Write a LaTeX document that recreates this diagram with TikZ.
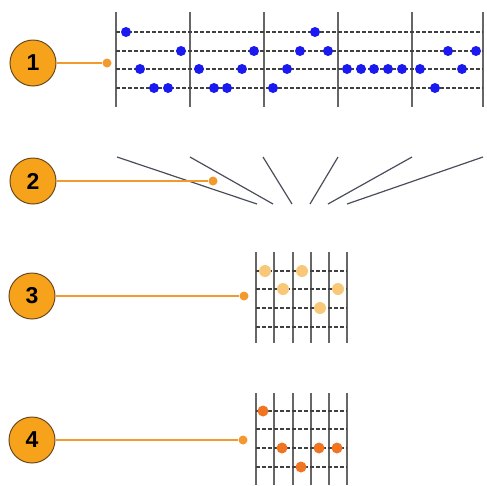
\documentclass[tikz,border=0pt]{standalone}
\usepackage{fontspec}
\setsansfont{Liberation Sans}
\usetikzlibrary{positioning}
\definecolor{calloutorange}{HTML}{F7A21B}
\definecolor{calloutrim}{HTML}{6B4A1E}
\definecolor{leaderorange}{HTML}{F29A2E}
\definecolor{noteblue}{HTML}{1A1AF0}
\definecolor{notepale}{HTML}{F8C878}
\definecolor{notedeep}{HTML}{F07422}
\definecolor{raygray}{HTML}{4A4E5C}

\begin{document}
\begin{tikzpicture}[
    x=1pt, y=-1pt,
    callout/.style={circle, draw=calloutrim, fill=calloutorange, line width=1pt, minimum size=46pt, inner sep=0pt, font=\sffamily\bfseries\fontsize{23}{23}\selectfont},
    leader/.style={draw=leaderorange, line width=1.6pt},
    tipdot/.style={circle, fill=leaderorange, inner sep=0pt, minimum size=9pt},
    bar/.style={draw=gray!80!black, line width=1.5pt},
    lane/.style={draw=black!75, line width=1.1pt, dash pattern=on 4pt off 2pt},
    ray/.style={draw=raygray, line width=1.2pt}
]
\useasboundingbox (0,0) rectangle (487,485);

% callouts and their leader tips
\node[callout] (c1) at (33,63) {1};
\node[callout] (c2) at (33,181) {2};
\node[callout] (c3) at (32,296) {3};
\node[callout] (c4) at (32,440) {4};

\node[tipdot] (t1) at (107,63) {};
\node[tipdot] (t2) at (213,181) {};
\node[tipdot] (t3) at (244,296) {};
\node[tipdot] (t4) at (243,440) {};

% panel 1: wide staff
\foreach \x in {116,190,264,338,412}
    \draw[bar] (\x,12) -- (\x,107);
\draw[bar, line width=2.6pt] (483,12) -- (483,107);
\foreach \y in {32,51,69,88}
    \draw[lane] (116,\y) -- (483,\y);
\foreach \x/\y in {126/32, 315/32,
    181/51, 254/51, 300/51, 328/51, 448/51, 476/51,
    140/69, 199/69, 242/69, 287/69, 347/69, 361/69, 374/69, 388/69, 402/69, 420/69, 462/69,
    154/88, 168/88, 214/88, 227/88, 273/88, 435/88}
    \fill[noteblue] (\x,\y) circle (5);

% panel 2: rays from wide bars to narrow bars
\foreach \a/\b [count=\i] in {117/257, 190/273, 263/292, 338/310, 412/328, 483/347} {
    \coordinate (top\i) at (\a,157);
    \coordinate (low\i) at (\b,204);
    \draw[ray] (top\i) -- (low\i);
}

% panel 3: narrow staff
\foreach \x in {256,274,293,311,329,347}
    \draw[bar] (\x,252) -- (\x,343);
\foreach \y in {271,289,308,327}
    \draw[lane] (256,\y) -- (347,\y);
\foreach \x/\y in {265/271, 302/271, 283/289, 338/289, 320/308}
    \fill[notepale] (\x,\y) circle (6);

% panel 4: narrow staff
\foreach \x in {256,274,293,311,329,347}
    \draw[bar] (\x,393) -- (\x,485);
\foreach \y in {411,429,448,467}
    \draw[lane] (256,\y) -- (347,\y);
\foreach \x/\y in {263/411, 282/448, 319/448, 337/448, 301/467}
    \fill[notedeep] (\x,\y) circle (5.5);

% leaders
\draw[leader] (c1) -- (t1);
\draw[leader] (c2) -- (t2);
\draw[leader] (c3) -- (t3);
\draw[leader] (c4) -- (t4);

\end{tikzpicture}
\end{document}
